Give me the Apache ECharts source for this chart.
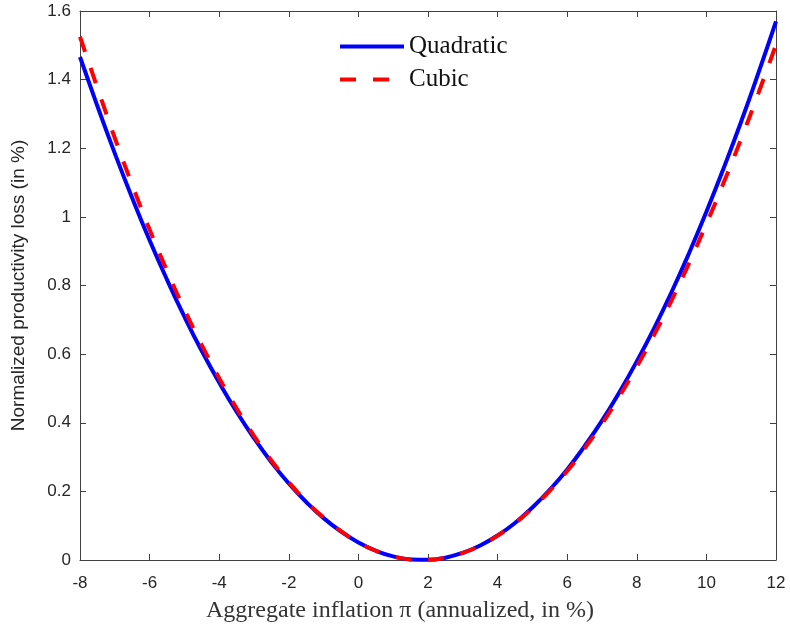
<!DOCTYPE html>
<html>
<head>
<meta charset="utf-8">
<script src="https://cdn.jsdelivr.net/npm/echarts@6/dist/echarts.min.js"></script>
<style>html,body{margin:0;padding:0;background:#fff}#c{width:790px;height:628px}</style>
</head>
<body>
<div id="c"></div>
<script>
const xValues = [-8,-7.5,-7,-6.5,-6,-5.5,-5,-4.5,-4,-3.5,-3,-2.5,-2,-1.5,-1,-0.5,0,0.5,1,1.5,2,2.5,3,3.5,4,4.5,5,5.5,6,6.5,7,7.5,8,8.5,9,9.5,10,10.5,11,11.5,12];
const quadratic = [1.466,1.323,1.185,1.055,0.932,0.817,0.709,0.609,0.517,0.432,0.355,0.285,0.223,0.169,0.122,0.083,0.051,0.027,0.0105,0.0017,0.0004,0.0068,0.0208,0.0424,0.0716,0.108,0.153,0.205,0.264,0.332,0.406,0.489,0.579,0.676,0.781,0.894,1.015,1.143,1.278,1.421,1.570];
const cubic = [1.525,1.376,1.230,1.093,0.963,0.843,0.730,0.626,0.530,0.442,0.362,0.290,0.227,0.171,0.1235,0.084,0.0514,0.027,0.0105,0.0017,0.0004,0.0068,0.0207,0.0421,0.0709,0.1068,0.151,0.2018,0.2593,0.3254,0.397,0.4772,0.5637,0.6567,0.757,0.8647,0.9796,1.1006,1.2279,1.3622,1.502];
const seriesNames = ['Quadratic','Cubic'];
const xTicks = [-8,-6,-4,-2,0,2,4,6,8,10,12];
const yTicks = [0,0.2,0.4,0.6,0.8,1,1.2,1.4,1.6];

const axisColor = '#404040';
const labelColor = '#262626';
const sans = 'Liberation Sans, Arial, sans-serif';
const serif = 'Liberation Serif, DejaVu Serif, serif';

const chart = echarts.init(document.getElementById('c'));
const baseX = {
  type: 'value', min: -8, max: 12, interval: 2,
  axisLine: {show: true, onZero: false, lineStyle: {color: axisColor, width: 1}},
  axisTick: {show: true, inside: true, length: 6, lineStyle: {color: axisColor}},
  splitLine: {show: false}
};
const baseY = {
  type: 'value', min: 0, max: 1.6, interval: 0.2,
  axisLine: {show: true, onZero: false, lineStyle: {color: axisColor, width: 1}},
  axisTick: {show: true, inside: true, length: 6, lineStyle: {color: axisColor}},
  splitLine: {show: false}
};
chart.setOption({
  animation: false,
  backgroundColor: '#fff',
  grid: {left: 80, right: 14, top: 11, bottom: 67, containLabel: false},
  legend: {
    orient: 'vertical', left: 333, top: 29, itemGap: 8,
    itemWidth: 64, itemHeight: 20,
    data: seriesNames,
    itemStyle: {opacity: 0},
    lineStyle: {width: 4},
    textStyle: {fontFamily: serif, fontSize: 25, color: '#111'}
  },
  xAxis: [
    Object.assign({}, baseX, {
      position: 'bottom',
      axisLabel: {show: true, margin: 15, fontFamily: sans, fontSize: 17, color: labelColor,
        formatter: v => xTicks.includes(v) ? String(v) : ''},
      name: 'Aggregate inflation \u03c0 (annualized, in %)',
      nameLocation: 'middle', nameGap: 39,
      nameTextStyle: {fontFamily: serif, fontSize: 24, color: '#333', padding: [0, 56, 0, 0]}
    }),
    Object.assign({}, baseX, {position: 'top', axisLabel: {show: false}})
  ],
  yAxis: [
    Object.assign({}, baseY, {
      position: 'left',
      axisLabel: {show: true, margin: 9, fontFamily: sans, fontSize: 17, color: labelColor,
        formatter: v => { const t = yTicks.find(y => Math.abs(y - v) < 1e-9); return t === undefined ? '' : String(t); }},
      name: 'Normalized productivity loss (in %)',
      nameLocation: 'middle', nameGap: 52,
      nameTextStyle: {fontFamily: sans, fontSize: 19, color: labelColor}
    }),
    Object.assign({}, baseY, {position: 'right', axisLabel: {show: false}})
  ],
  series: [
    {
      name: seriesNames[0], type: 'line', smooth: true, symbol: 'none',
      xAxisIndex: 0, yAxisIndex: 0,
      data: xValues.map((x, i) => [x, quadratic[i]]),
      lineStyle: {color: '#0000ff', width: 4},
      itemStyle: {color: '#0000ff'}, z: 2
    },
    {
      name: seriesNames[1], type: 'line', smooth: true, symbol: 'none',
      xAxisIndex: 0, yAxisIndex: 0,
      data: xValues.map((x, i) => [x, cubic[i]]),
      lineStyle: {color: '#ff0000', width: 4, type: [16, 17]},
      itemStyle: {color: '#ff0000'}, z: 3
    }
  ]
});
</script>
</body>
</html>
